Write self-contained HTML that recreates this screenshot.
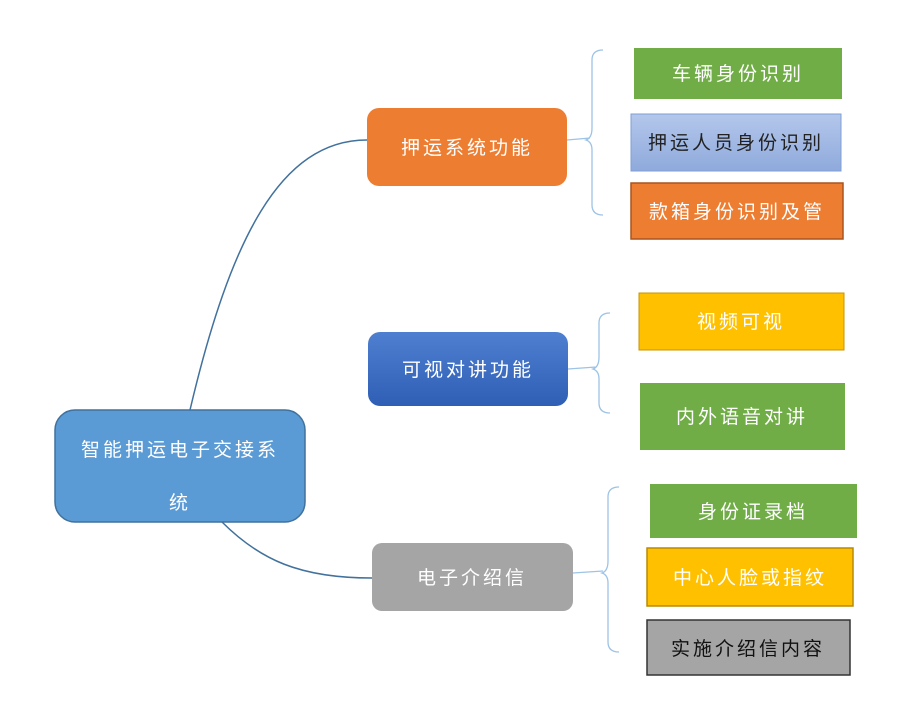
<!DOCTYPE html>
<html><head><meta charset="utf-8"><style>
body{margin:0;background:#fff;}
svg text{font-family:"Liberation Sans","Noto Sans CJK SC",sans-serif;letter-spacing:3px;}
</style></head><body>
<svg width="900" height="699" viewBox="0 0 900 699" xmlns="http://www.w3.org/2000/svg">
<defs>
<linearGradient id="gb" x1="0" y1="0" x2="0" y2="1"><stop offset="0" stop-color="#4f7fd0"/><stop offset="1" stop-color="#2f5fb5"/></linearGradient>
<linearGradient id="lb" x1="0" y1="0" x2="0" y2="1"><stop offset="0" stop-color="#b4c7ec"/><stop offset="1" stop-color="#8eaadb"/></linearGradient>
</defs>
<text x="80" y="6" font-size="12" fill="#ddd">　　　　　</text>
<!-- connectors -->
<path d="M190 410 C230 240 280 140 367 140" fill="none" stroke="#41719c" stroke-width="1.5"/>
<path d="M222 522 C260 560 300 578 372 578" fill="none" stroke="#41719c" stroke-width="1.5"/>
<!-- braces -->
<g fill="none" stroke="#9dc3e6" stroke-width="1.3">
<path d="M567 140 L590 138 M603 50 Q592 50 592 60 L592 128 Q592 138 586 140 Q592 142 592 150 L592 205 Q592 215 603 215"/>
<path d="M568 369 L596 367 M610 313 Q599 313 599 323 L599 357 Q599 367 593 369 Q599 371 599 379 L599 403 Q599 413 610 413"/>
<path d="M573 573 L603 571 M619 487 Q608 487 608 497 L608 561 Q608 571 602 573 Q608 575 608 583 L608 642 Q608 652 619 652"/>
</g>
<!-- root -->
<rect x="55" y="410" width="250" height="112" rx="20" fill="#5b9bd5" stroke="#41719c" stroke-width="1.5"/>
<text x="180" y="456" font-size="19" fill="#fff" text-anchor="middle">智能押运电子交接系</text>
<text x="180" y="509" font-size="19" fill="#fff" text-anchor="middle">统</text>
<!-- mid -->
<rect x="367" y="108" width="200" height="78" rx="12" fill="#ed7d31"/>
<text x="467" y="154" font-size="19" fill="#fff" text-anchor="middle">押运系统功能</text>
<rect x="368" y="332" width="200" height="74" rx="12" fill="url(#gb)"/>
<text x="468" y="376" font-size="19" fill="#fff" text-anchor="middle">可视对讲功能</text>
<rect x="372" y="543" width="201" height="68" rx="10" fill="#a5a5a5"/>
<text x="472" y="584" font-size="19" fill="#fff" text-anchor="middle">电子介绍信</text>
<!-- leaves -->
<rect x="634" y="48" width="208" height="51" fill="#70ad47"/>
<text x="738" y="80" font-size="19" fill="#fff" text-anchor="middle">车辆身份识别</text>
<rect x="631" y="114" width="210" height="57" fill="url(#lb)" stroke="#7f9fd6"/>
<text x="736" y="149" font-size="19" fill="#222" text-anchor="middle">押运人员身份识别</text>
<rect x="631" y="183" width="212" height="56" fill="#ed7d31" stroke="#a9541f" stroke-width="1.5"/>
<text x="737" y="218" font-size="19" fill="#fff" text-anchor="middle">款箱身份识别及管</text>
<rect x="639" y="293" width="205" height="57" fill="#ffc000" stroke="#c79400"/>
<text x="741" y="328" font-size="19" fill="#fff" text-anchor="middle">视频可视</text>
<rect x="640" y="383" width="205" height="67" fill="#70ad47"/>
<text x="742" y="423" font-size="19" fill="#fff" text-anchor="middle">内外语音对讲</text>
<rect x="650" y="484" width="207" height="54" fill="#70ad47"/>
<text x="753" y="518" font-size="19" fill="#fff" text-anchor="middle">身份证录档</text>
<rect x="647" y="548" width="206" height="58" fill="#ffc000" stroke="#b88a00" stroke-width="1.5"/>
<text x="750" y="584" font-size="19" fill="#fff" text-anchor="middle">中心人脸或指纹</text>
<rect x="647" y="620" width="203" height="55" fill="#a5a5a5" stroke="#333" stroke-width="1.5"/>
<text x="748" y="655" font-size="19" fill="#111" text-anchor="middle">实施介绍信内容</text>
</svg>
</body></html>
